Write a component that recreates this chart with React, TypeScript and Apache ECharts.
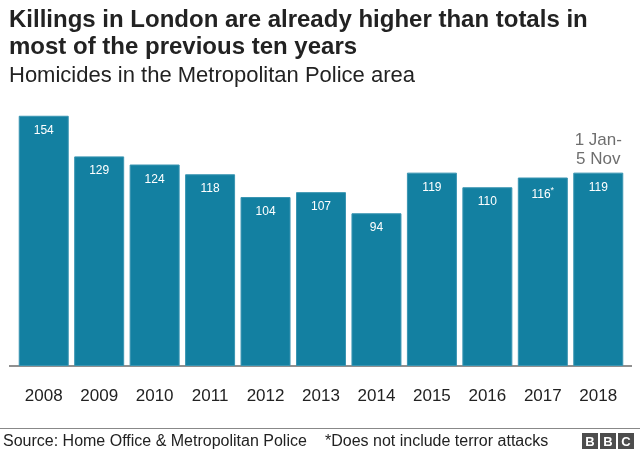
import React, { useEffect, useRef } from "react";
import * as echarts from "echarts";

const years = ["2008", "2009", "2010", "2011", "2012", "2013", "2014", "2015", "2016", "2017", "2018"];
const homicides = [154, 129, 124, 118, 104, 107, 94, 119, 110, 116, 119];
const asteriskYear = "2017";
const partialYear = "2018";
const partialNote = "1 Jan-\n5 Nov";

const FONT = "Liberation Sans, Arial, Helvetica, sans-serif";
const BAR = "#1380A1";

export default function App() {
  const ref = useRef<HTMLDivElement>(null);
  useEffect(() => {
    const chart = echarts.init(ref.current!, null, { renderer: "svg" });
    chart.setOption({
      animation: false,
      textStyle: { fontFamily: FONT },
      grid: { left: 16, right: 14, top: 106, bottom: 84, containLabel: false },
      xAxis: {
        type: "category",
        data: years,
        axisLine: { show: false },
        axisTick: { show: false },
        axisLabel: { color: "#222", fontSize: 17, margin: 21, fontFamily: FONT },
      },
      yAxis: {
        type: "value",
        min: 0,
        max: 160,
        show: false,
        splitLine: { show: false },
      },
      series: [
        {
          type: "bar",
          barWidth: 50,
          data: homicides.map((v) => ({ value: v })),
          itemStyle: { color: BAR, borderColor: "#3a95b2", borderWidth: 1 },
          label: {
            show: true,
            position: "insideTop",
            distance: 8,
            color: "#fff",
            fontSize: 12,
            fontFamily: FONT,
            formatter: (p: any) =>
              years[p.dataIndex] === asteriskYear ? `{v|${p.value}}{s|*}` : `{v|${p.value}}`,
            rich: {
              v: { color: "#fff", fontSize: 12, fontFamily: FONT },
              s: { color: "#fff", fontSize: 9, fontFamily: FONT, padding: [0, 0, 7, 0] },
            },
          },
        },
        {
          type: "scatter",
          symbolSize: 0,
          silent: true,
          data: years.map((y, i) => (y === partialYear ? homicides[i] : null)),
          label: {
            show: true,
            position: "top",
            distance: 5,
            color: "#4a4a4a",
            fontSize: 17,
            lineHeight: 19,
            fontFamily: FONT,
            formatter: () => partialNote,
          },
        },
      ],
      graphic: [
        {
          type: "text",
          left: 9,
          top: 5,
          style: {
            text: "Killings in London are already higher than totals in\nmost of the previous ten years",
            fontSize: 24,
            fontWeight: "bold",
            lineHeight: 27,
            fill: "#222",
            fontFamily: FONT,
          },
        },
        {
          type: "text",
          left: 9,
          top: 63,
          style: {
            text: "Homicides in the Metropolitan Police area",
            fontSize: 22,
            fill: "#222",
            fontFamily: FONT,
          },
        },
        {
          type: "line",
          shape: { x1: 9, y1: 366, x2: 632, y2: 366 },
          style: { stroke: "#222", lineWidth: 1.2 },
        },
        {
          type: "line",
          shape: { x1: 0, y1: 428.5, x2: 640, y2: 428.5 },
          style: { stroke: "#888", lineWidth: 1 },
        },
        {
          type: "text",
          left: 3,
          top: 432,
          style: { text: "Source: Home Office & Metropolitan Police", fontSize: 16, fill: "#222", fontFamily: FONT },
        },
        {
          type: "text",
          left: 325,
          top: 432,
          style: { text: "*Does not include terror attacks", fontSize: 16, fill: "#222", fontFamily: FONT },
        },
        ...["B", "B", "C"].flatMap((ch, i) => [
          { type: "rect", shape: { x: 582 + i * 18, y: 433, width: 16, height: 16 }, style: { fill: "#4d4d4d" } },
          {
            type: "text",
            x: 590 + i * 18,
            y: 441.5,
            style: { text: ch, fontSize: 13, fontWeight: "bold", fill: "#fff", align: "center", verticalAlign: "middle", fontFamily: FONT },
          },
        ]),
      ],
    });
    return () => chart.dispose();
  }, []);
  return <div ref={ref} style={{ position: "fixed", left: 0, top: 0, width: 640, height: 450 }} />;
}
